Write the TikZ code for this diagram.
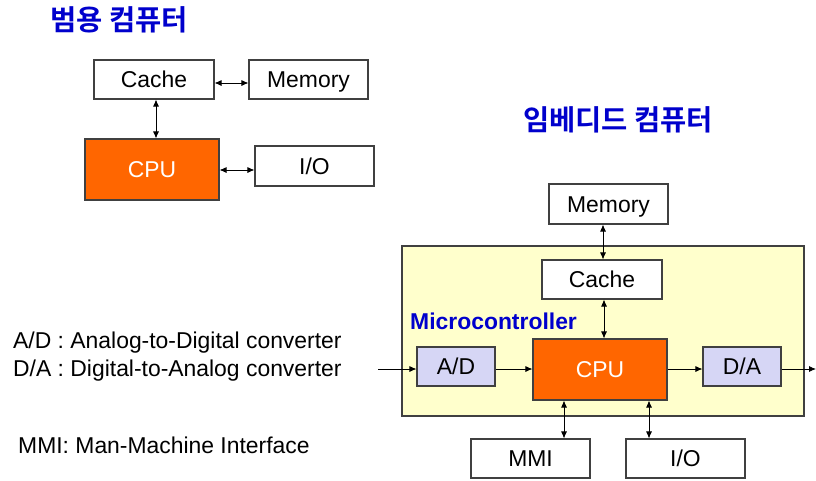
\documentclass[tikz,border=0pt]{standalone}
\usepackage{fontspec}
\setmainfont{Liberation Sans}
\newfontfamily\hangul{Noto Sans CJK KR}[BoldFont={* Bold}]
\usetikzlibrary{arrows.meta}
\definecolor{titleblue}{RGB}{0,0,204}
\definecolor{cpuorange}{RGB}{255,102,0}
\definecolor{mcuyellow}{RGB}{255,255,204}
\definecolor{convlav}{RGB}{214,214,245}
\definecolor{edgegray}{RGB}{64,64,64}
\tikzset{
  txt/.style={font=\fontsize{22.9}{27}\selectfont},
  unit/.style={draw=edgegray, line width=1.1pt, fill=white, inner sep=0pt,
    text height=16.4pt, text depth=0pt, txt},
  cpubox/.style={unit, fill=cpuorange, text=white},
  convbox/.style={unit, fill=convlav},
  mcubox/.style={draw=edgegray, line width=1.1pt, fill=mcuyellow, inner sep=0pt},
  heading/.style={font=\hangul\bfseries\fontsize{28.5}{32}\selectfont, text=titleblue, inner sep=0pt},
  tip/.tip={Latex[length=7pt,width=6pt]},
  link/.style={line width=0.8pt, tip-tip},
  flow/.style={line width=0.8pt, -tip},
  note/.style={txt, anchor=base west, inner sep=0pt},
}
\begin{document}
\begin{tikzpicture}[x=1pt, y=-1pt]
\useasboundingbox (0,0) rectangle (816,480);

% general-purpose computer
\node[heading] (titleA) at (119,20) {범용 컴퓨터};
\node[unit, minimum width=120pt, minimum height=39pt] (cacheA) at (154,79.5) {Cache};
\node[unit, minimum width=119pt, minimum height=39pt] (memA) at (308.5,79.5) {Memory};
\node[cpubox, minimum width=134pt, minimum height=61pt] (cpuA) at (152,169.5) {CPU};
\node[unit, minimum width=119pt, minimum height=40pt] (ioA) at (314.5,166) {I/O};

\draw[link] (cacheA.east |- 0,83) -- (memA.west |- 0,83);
\draw[link] (cacheA.south -| 156,0) -- (cpuA.north -| 156,0);
\draw[link] (cpuA.east |- 0,170) -- (ioA.west |- 0,170);

% embedded computer
\node[heading] (titleB) at (618,120) {임베디드 컴퓨터};
\node[unit, minimum width=119pt, minimum height=40pt] (memB) at (608.5,204) {Memory};
\node[mcubox, minimum width=402pt, minimum height=170pt] (mcu) at (603,331) {};
\node[font=\bfseries\fontsize{22.9}{27}\selectfont, text=titleblue, anchor=west, inner sep=0pt] (mcuLabel) at (410,321) {Microcontroller};
\node[unit, minimum width=120pt, minimum height=39pt] (cacheB) at (602,279.5) {Cache};
\node[cpubox, minimum width=134pt, minimum height=61pt] (cpuB) at (600,369.5) {CPU};
\node[convbox, minimum width=78pt, minimum height=39pt] (adB) at (456,366.5) {A/D};
\node[convbox, minimum width=78pt, minimum height=39pt] (daB) at (742,366.5) {D/A};
\node[unit, minimum width=119pt, minimum height=39pt] (mmiB) at (530.5,458.5) {MMI};
\node[unit, minimum width=119pt, minimum height=39pt] (ioB) at (685.5,458.5) {I/O};

\coordinate (sigIn) at (378,369);
\coordinate (sigOut) at (816,369);

\draw[link] (memB.south -| 603,0) -- (cacheB.north -| 603,0);
\draw[link] (cacheB.south -| 604,0) -- (cpuB.north -| 604,0);
\draw[flow] (sigIn) -- (adB.west |- sigIn);
\draw[flow] (adB.east |- sigIn) -- (cpuB.west |- sigIn);
\draw[flow] (cpuB.east |- sigIn) -- (daB.west |- sigIn);
\draw[flow] (daB.east |- sigIn) -- (sigOut);
\draw[link] (cpuB.south -| 564,0) -- (mmiB.north -| 564,0);
\draw[link] (cpuB.south -| 649,0) -- (ioB.north -| 649,0);

% abbreviations
\node[note] (noteAD) at (13,348) {A/D : Analog-to-Digital converter};
\node[note] (noteDA) at (13,376) {D/A : Digital-to-Analog converter};
\node[note] (noteMMI) at (18,453) {MMI: Man-Machine Interface};
\end{tikzpicture}
\end{document}
